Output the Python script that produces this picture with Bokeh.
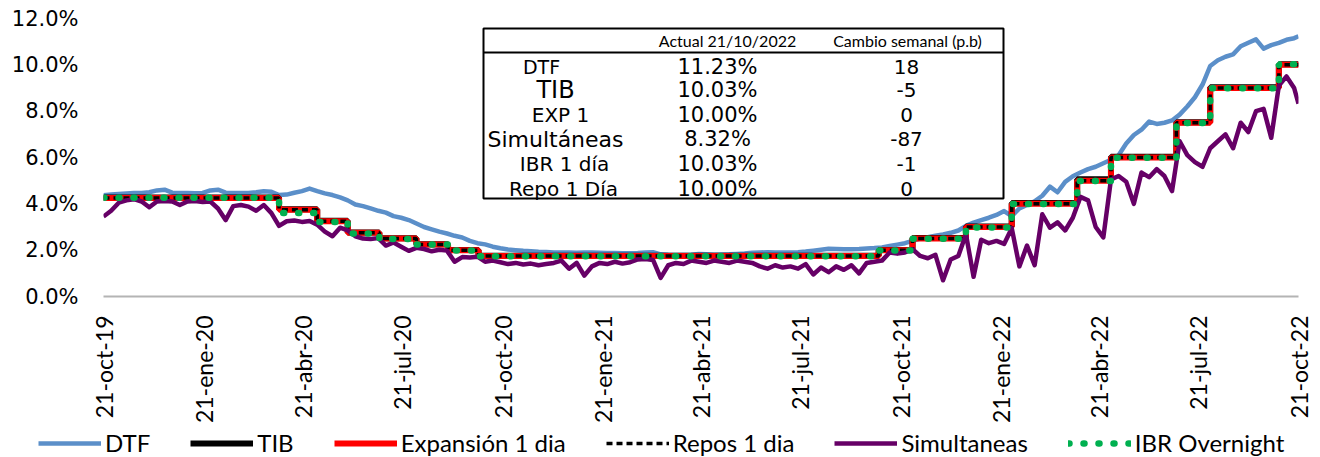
import numpy as np
import pandas as pd
from bokeh.plotting import figure
from bokeh.layouts import column
from bokeh.models import (Range1d, FixedTicker, PrintfTickFormatter, Legend,
                          LegendItem, Label, BoxAnnotation)
from bokeh.embed import file_html
from bokeh.resources import INLINE

# ---------------- data ----------------
start_date = "2019-10-21"
end_date = "2022-10-21"

tick_dates = ["2019-10-21", "2020-01-21", "2020-04-21", "2020-07-21", "2020-10-21",
              "2021-01-21", "2021-04-21", "2021-07-21", "2021-10-21", "2022-01-21",
              "2022-04-21", "2022-07-21", "2022-10-21"]
tick_labels = ["21-oct-19", "21-ene-20", "21-abr-20", "21-jul-20", "21-oct-20",
               "21-ene-21", "21-abr-21", "21-jul-21", "21-oct-21", "21-ene-22",
               "21-abr-22", "21-jul-22", "21-oct-22"]

# weekly DTF (%), starting 21-oct-2019
dtf_weekly = [4.37, 4.40, 4.43, 4.45, 4.47, 4.47, 4.50, 4.58, 4.61, 4.48,
              4.47, 4.47, 4.46, 4.47, 4.58, 4.61, 4.48, 4.47, 4.47, 4.47,
              4.50, 4.54, 4.52, 4.38, 4.40, 4.48, 4.55, 4.66, 4.55, 4.45,
              4.38, 4.28, 4.15, 3.97, 3.90, 3.80, 3.70, 3.62, 3.47, 3.40,
              3.30, 3.15, 3.00, 2.90, 2.80, 2.72, 2.62, 2.55, 2.40, 2.30,
              2.25, 2.15, 2.08, 2.03, 2.00, 1.97, 1.95, 1.93, 1.92, 1.90,
              1.90, 1.90, 1.89, 1.90, 1.90, 1.89, 1.88, 1.88, 1.87, 1.87,
              1.88, 1.90, 1.91, 1.82, 1.80, 1.79, 1.79, 1.80, 1.83, 1.82,
              1.80, 1.81, 1.82, 1.84, 1.86, 1.89, 1.90, 1.91, 1.90, 1.90,
              1.90, 1.91, 1.94, 1.98, 2.02, 2.06, 2.05, 2.04, 2.04, 2.05,
              2.07, 2.09, 2.12, 2.18, 2.24, 2.30, 2.40, 2.50, 2.56, 2.62,
              2.68, 2.75, 2.85, 3.05, 3.19, 3.30, 3.40, 3.52, 3.69, 3.47,
              3.80, 3.95, 4.11, 4.35, 4.74, 4.50, 4.95, 5.19, 5.35, 5.50,
              5.60, 5.75, 5.90, 6.10, 6.60, 6.97, 7.20, 7.55, 7.45, 7.50,
              7.60, 7.85, 8.20, 8.60, 9.15, 9.95, 10.20, 10.35, 10.45, 10.80,
              10.95, 11.10, 10.70, 10.85, 10.95, 11.08, 11.15]
dtf_last = 11.23

# weekly Simultaneas (%), starting 21-oct-2019
simul_weekly = [3.45, 3.70, 4.05, 4.15, 4.20, 4.10, 3.85, 4.10, 4.12, 4.10,
                3.95, 4.10, 4.12, 4.08, 4.10, 3.80, 3.30, 3.90, 3.95, 3.88,
                3.70, 3.95, 3.60, 3.05, 3.25, 3.28, 3.22, 3.26, 3.10, 2.80,
                2.60, 2.97, 2.85, 2.60, 2.50, 2.48, 2.52, 2.20, 2.33, 2.15,
                1.97, 2.10, 2.05, 1.95, 2.02, 1.98, 1.50, 1.70, 1.68, 1.72,
                1.50, 1.55, 1.48, 1.40, 1.45, 1.38, 1.42, 1.35, 1.40, 1.45,
                1.55, 1.20, 1.45, 0.90, 1.30, 1.45, 1.40, 1.50, 1.42, 1.48,
                1.60, 1.62, 1.58, 0.80, 1.35, 1.45, 1.40, 1.55, 1.50, 1.45,
                1.55, 1.50, 1.45, 1.55, 1.50, 1.45, 1.30, 1.20, 1.35, 1.25,
                1.30, 1.20, 1.40, 0.95, 1.25, 1.05, 1.30, 1.15, 1.35, 1.00,
                1.45, 1.50, 1.55, 1.90, 1.85, 1.90, 2.04, 1.75, 1.65, 1.80,
                0.70, 1.60, 1.75, 2.69, 0.85, 2.45, 2.30, 2.40, 2.27, 2.95,
                1.30, 2.20, 1.35, 3.55, 2.97, 3.20, 2.85, 3.40, 4.30, 4.15,
                3.00, 2.55, 5.05, 5.20, 4.95, 4.00, 5.35, 5.15, 5.50, 5.20,
                4.55, 6.70, 6.10, 5.80, 5.60, 6.40, 6.70, 7.00, 6.40, 7.50,
                7.10, 8.00, 8.10, 6.85, 9.10, 9.50, 9.00]
simul_last = 8.32

# policy-linked overnight rates: change dates and levels (%)
step_dates = ["2019-10-21", "2020-03-30", "2020-05-04", "2020-06-01", "2020-06-30",
              "2020-08-03", "2020-09-01", "2020-09-29", "2021-10-01", "2021-11-01",
              "2021-12-20", "2022-01-31", "2022-04-01", "2022-05-02", "2022-07-01",
              "2022-08-01", "2022-10-03", "2022-10-21"]
expansion_vals = [4.25, 3.75, 3.25, 2.75, 2.50, 2.25, 2.00, 1.75, 2.00, 2.50,
                  3.00, 4.00, 5.00, 6.00, 7.50, 9.00, 10.00, 10.00]
repos_vals = [4.25, 3.75, 3.25, 2.75, 2.50, 2.25, 2.00, 1.75, 2.00, 2.50,
              3.00, 4.00, 5.00, 6.00, 7.50, 9.00, 10.00, 10.00]
tib_vals = [4.27, 3.77, 3.27, 2.76, 2.51, 2.26, 2.01, 1.76, 2.01, 2.52,
            3.02, 4.04, 5.06, 6.03, 7.52, 9.03, 10.03, 10.03]
ibr_vals = [4.26, 3.60, 3.22, 2.72, 2.48, 2.24, 1.99, 1.74, 1.99, 2.49,
            2.98, 3.99, 4.99, 5.99, 7.49, 8.99, 10.03, 10.03]

table_header = ["Actual 21/10/2022", "Cambio semanal (p.b)"]
table_names = ["DTF", "TIB", "EXP 1", "Simultáneas", "IBR 1 día", "Repo 1 Día"]
table_actual = ["11.23%", "10.03%", "10.00%", "8.32%", "10.03%", "10.00%"]
table_change = ["18", "-5", "0", "-87", "-1", "0"]

series_names = ["DTF", "TIB", "Expansión 1 dia", "Repos 1 dia", "Simultaneas", "IBR Overnight"]

# ---------------- styles ----------------
styles = [
    dict(line_color="#5B8FC9", line_width=4.5),
    dict(line_color="#000000", line_width=6),
    dict(line_color="#FF0000", line_width=6),
    dict(line_color="#000000", line_width=3.5, line_dash="6 4"),
    dict(line_color="#660066", line_width=4.5),
    dict(line_color="#00B050", line_width=6.5, line_dash="1 14", line_cap="round"),
]

# ---------------- build ----------------
def to_dt(s):
    return pd.to_datetime(s)

week_dates = list(pd.date_range(start_date, periods=len(dtf_weekly), freq="7D")) + [to_dt(end_date)]
dtf_y = dtf_weekly + [dtf_last]
sim_dates = list(pd.date_range(start_date, periods=len(simul_weekly), freq="7D")) + [to_dt(end_date)]
sim_y = simul_weekly + [simul_last]
sd = [to_dt(d) for d in step_dates]

t0 = to_dt(start_date)
t1 = to_dt(end_date)
t0_ms = t0.value / 1e6
t1_ms = t1.value / 1e6

FL, FR, FT, FB = 103.0, 1298.0, 18.0, 296.0   # frame in page px
W, H_MAIN, H_LEG = 1320, 427, 30


def xd(px):
    return t0_ms + (px - FL) / (FR - FL) * (t1_ms - t0_ms)


def yd(py):
    return (FB - py) / (FB - FT) * 12.0


p = figure(width=W, height=H_MAIN, x_axis_type="datetime", output_backend="svg",
           toolbar_location=None, min_border_left=int(FL), min_border_right=int(W - FR),
           min_border_top=int(FT), min_border_bottom=int(H_MAIN - FB),
           x_range=Range1d(t0, t1), y_range=Range1d(0, 12))
p.frame_align = False
p.outline_line_color = None
p.xgrid.visible = False
p.ygrid.visible = False
p.background_fill_color = "white"

# axes
p.xaxis.ticker = FixedTicker(ticks=[to_dt(d).value / 1e6 for d in tick_dates])
p.xaxis.major_label_overrides = {to_dt(d).value / 1e6: lab for d, lab in zip(tick_dates, tick_labels)}
p.xaxis.major_label_orientation = np.pi / 2
p.xaxis.major_label_text_font = "Lato"
p.xaxis.major_label_text_font_size = "23px"
p.xaxis.major_label_text_color = "#000000"
p.xaxis.major_label_standoff = 19
p.xaxis.major_tick_out = 0
p.xaxis.major_tick_in = 0
p.xaxis.minor_tick_out = 0
p.xaxis.minor_tick_in = 0
p.xaxis.axis_line_color = "#B4B4B4"
p.xaxis.axis_line_width = 2

p.yaxis.ticker = FixedTicker(ticks=[0, 2, 4, 6, 8, 10, 12])
p.yaxis.formatter = PrintfTickFormatter(format="%.1f%%")
p.yaxis.major_label_text_font = "DejaVu Sans"
p.yaxis.major_label_text_font_size = "21px"
p.yaxis.major_label_text_color = "#000000"
p.yaxis.major_label_standoff = 25
p.yaxis.axis_line_color = None
p.yaxis.major_tick_out = 0
p.yaxis.major_tick_in = 0
p.yaxis.minor_tick_out = 0
p.yaxis.minor_tick_in = 0

# series
p.line(week_dates, dtf_y, line_join="round", **styles[0])
p.step(sd, tib_vals, mode="after", **styles[1])
p.step(sd, expansion_vals, mode="after", **styles[2])
p.step(sd, repos_vals, mode="after", **styles[3])
p.line(sim_dates, sim_y, line_join="round", **styles[4])
p.step(sd, ibr_vals, mode="after", **styles[5])

# table inset
p.add_layout(BoxAnnotation(left=xd(483), right=xd(1003), top=yd(28), bottom=yd(198),
                           fill_color="white", fill_alpha=1.0, line_color="black",
                           line_alpha=1.0, line_width=2, level="overlay"))
p.add_layout(BoxAnnotation(left=xd(483), right=xd(1003), top=yd(51.5), bottom=yd(52.5),
                           fill_color="black", fill_alpha=1.0, line_color="black",
                           line_alpha=1.0, line_width=1, level="overlay"))

hdr_x = [727, 907]
for txt, hx in zip(table_header, hdr_x):
    p.add_layout(Label(x=xd(hx), y=yd(40), text=txt, text_align="center",
                       text_baseline="middle", text_font="Lato", text_font_size="16px",
                       text_color="black", level="overlay"))

row_y = [66.5, 89.5, 114.5, 138.5, 163.5, 188.0]
name_x = [541, 555, 560, 555, 564, 563]
name_size = ["19px", "24px", "20px", "22px", "20px", "20px"]
for i in range(len(table_names)):
    p.add_layout(Label(x=xd(name_x[i]), y=yd(row_y[i]), text=table_names[i],
                       text_align="center", text_baseline="middle", text_font="DejaVu Sans",
                       text_font_size=name_size[i], text_color="black", level="overlay"))
    p.add_layout(Label(x=xd(717), y=yd(row_y[i]), text=table_actual[i],
                       text_align="center", text_baseline="middle", text_font="DejaVu Sans",
                       text_font_size="21px", text_color="black", level="overlay"))
    p.add_layout(Label(x=xd(906), y=yd(row_y[i]), text=table_change[i],
                       text_align="center", text_baseline="middle", text_font="DejaVu Sans",
                       text_font_size="20px", text_color="black", level="overlay"))

# legend strip (separate figure with a full-width frame, same styles)
lg = figure(width=W, height=H_LEG, output_backend="svg", toolbar_location=None,
            x_axis_location=None, y_axis_location=None, min_border=0,
            x_range=Range1d(0, 1), y_range=Range1d(0, 1))
lg.frame_align = False
lg.outline_line_color = None
lg.xgrid.visible = False
lg.ygrid.visible = False
dummies = [lg.line(x=[5, 6], y=[5, 6], **st) for st in styles]
items = [LegendItem(label=n, renderers=[r]) for n, r in zip(series_names, dummies)]
legend = Legend(items=items, orientation="horizontal", location=(38, 0),
                spacing=40, glyph_width=63, glyph_height=22, label_standoff=4,
                padding=0, margin=0, border_line_color=None, background_fill_alpha=0,
                label_text_font="Lato", label_text_font_size="24px",
                label_text_color="black")
lg.add_layout(legend, "center")

layout = column(p, lg, spacing=0)
open("out.html", "w").write(file_html(layout, INLINE))
